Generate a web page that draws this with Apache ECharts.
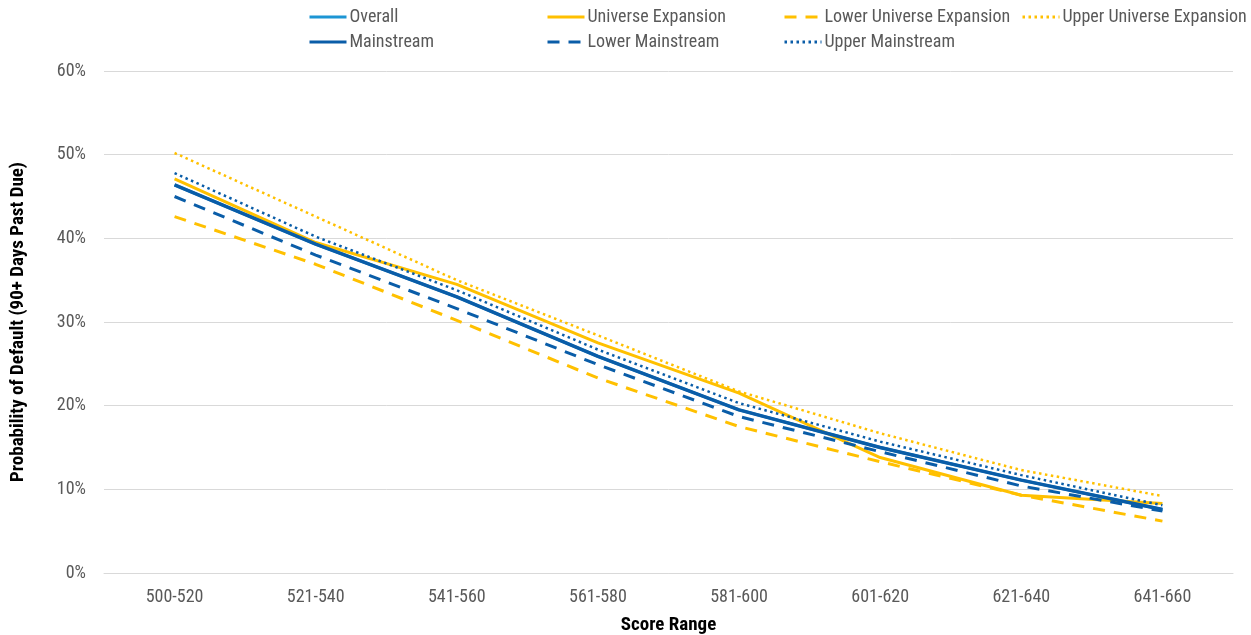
<!DOCTYPE html>
<html><head><meta charset="utf-8">
<script src="https://cdn.jsdelivr.net/npm/echarts@6/dist/echarts.min.js"></script>
<style>html,body{margin:0;padding:0;background:#fff}#c{width:1251px;height:635px}</style>
</head><body><div id="c"></div>
<script>
const categories = ['500-520','521-540','541-560','561-580','581-600','601-620','621-640','641-660'];
const overall = [46.4, 39.3, 33.0, 25.9, 19.5, 15.0, 11.1, 7.6];
const mainstream = [46.4, 39.3, 33.0, 25.9, 19.5, 15.0, 11.1, 7.6];
const universeExpansion = [47.1, 39.5, 34.5, 27.5, 21.5, 13.8, 9.3, 8.3];
const lowerUniverseExpansion = [42.6, 36.9, 30.2, 23.3, 17.5, 13.3, 9.3, 6.2];
const upperUniverseExpansion = [50.2, 42.6, 35.0, 28.4, 21.7, 16.7, 12.3, 9.2];
const lowerMainstream = [45.0, 38.0, 31.6, 24.9, 18.7, 14.5, 10.4, 7.4];
const upperMainstream = [47.8, 40.2, 33.8, 26.7, 20.3, 15.7, 11.7, 8.1];
const yTicks = [0, 10, 20, 30, 40, 50, 60];

const FONT = '"Liberation Sans Narrow", "Roboto Condensed", "Arial Narrow", Roboto, sans-serif';
const C_LIGHT = '#1c95d4', C_DARK = '#0a5da8', C_YEL = '#ffc000';

const seriesDefs = [
  {name:'Overall', data: overall, color: C_LIGHT, type:'solid', width:3},
  {name:'Universe Expansion', data: universeExpansion, color: C_YEL, type:'solid', width:3},
  {name:'Lower Universe Expansion', data: lowerUniverseExpansion, color: C_YEL, type:[12,9], width:3},
  {name:'Upper Universe Expansion', data: upperUniverseExpansion, color: C_YEL, type:[2.5,3.5], width:2.5},
  {name:'Lower Mainstream', data: lowerMainstream, color: C_DARK, type:[12,9], width:3},
  {name:'Upper Mainstream', data: upperMainstream, color: C_DARK, type:[2.5,3.5], width:2.5},
  {name:'Mainstream', data: mainstream, color: C_DARK, type:'solid', width:3.5}
];

const legendPos = {
  'Overall':[308,8], 'Universe Expansion':[546,8], 'Lower Universe Expansion':[783,8], 'Upper Universe Expansion':[1021,8],
  'Mainstream':[308,33], 'Lower Mainstream':[546,33], 'Upper Mainstream':[783,33]
};

const legends = Object.keys(legendPos).map(n => ({
  data:[n], left: legendPos[n][0], top: legendPos[n][1],
  itemWidth: 37, itemHeight: 18, itemGap: 0, padding: 0,
  itemStyle: {opacity: 0},
  lineStyle: {width: 3},
  textStyle: {fontFamily: FONT, fontSize: 18, color: '#595959', padding:[0,0,0,-2]},
  selectedMode: false
}));

const chart = echarts.init(document.getElementById('c'), null, {renderer:'canvas'});
chart.setOption({
  animation: false,
  backgroundColor: '#fff',
  legend: legends,
  grid: {left: 104, right: 18, top: 71, bottom: 62, containLabel: false, outerBoundsMode: 'none'},
  xAxis: {
    type: 'category', data: categories, boundaryGap: true,
    axisLine: {show: true, lineStyle: {color: '#d9d9d9', width: 1}},
    axisTick: {show: false},
    axisLabel: {fontFamily: FONT, fontSize: 18, color: '#595959', margin: 15},
    name: 'Score Range', nameLocation: 'middle', nameGap: 43,
    nameTextStyle: {fontFamily: FONT, fontSize: 19, fontWeight: 'bold', color: '#000'}
  },
  yAxis: {
    type: 'value', min: yTicks[0], max: yTicks[yTicks.length-1], interval: 10,
    axisLine: {show: false}, axisTick: {show: false},
    splitLine: {lineStyle: {color: '#d9d9d9', width: 1}},
    axisLabel: {fontFamily: FONT, fontSize: 18, color: '#595959', margin: 18, formatter: v => v + '%'},
    name: 'Probability of Default (90+ Days Past Due)', nameLocation: 'middle', nameGap: 76, nameRotate: 90,
    nameTextStyle: {fontFamily: FONT, fontSize: 19, fontWeight: 'bold', color: '#000'}
  },
  series: seriesDefs.map(s => ({
    name: s.name, type: 'line', data: s.data, symbol: 'none', smooth: false,
    color: s.color,
    lineStyle: {color: s.color, width: s.width, type: s.type},
    itemStyle: {color: s.color}
  }))
});
</script></body></html>
